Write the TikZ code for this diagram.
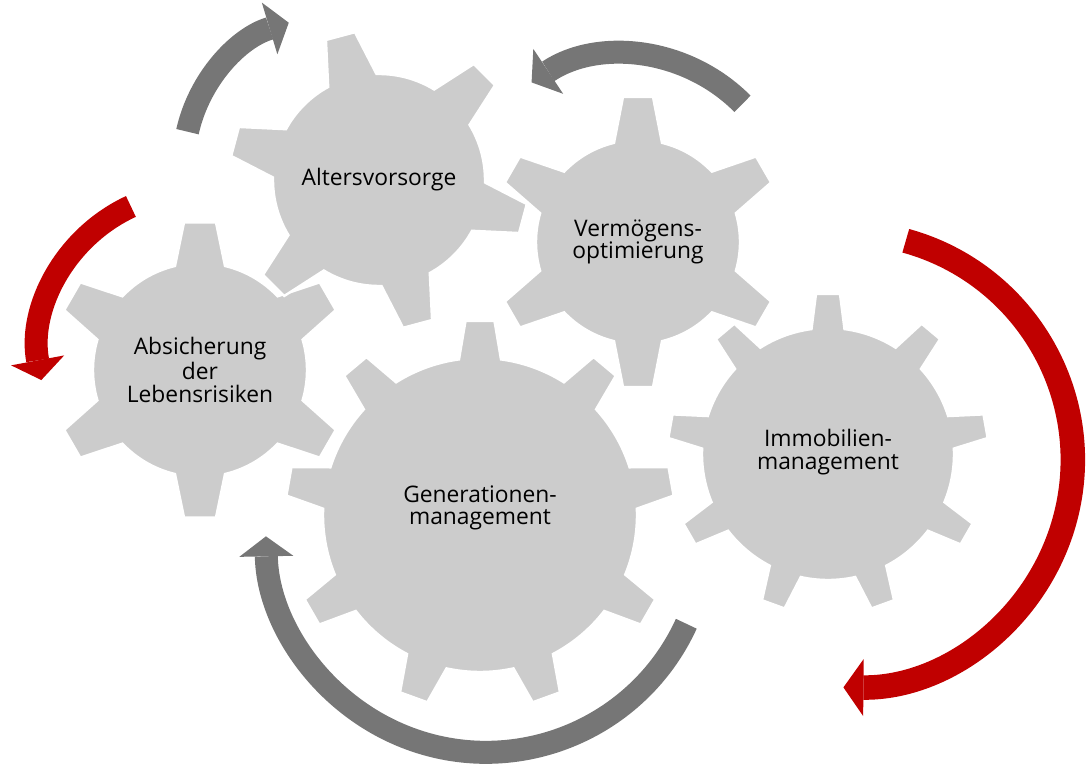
\documentclass[tikz,border=0pt]{standalone}
\usepackage{fontspec}
\setmainfont{Open Sans}
\usetikzlibrary{arrows.meta}

\definecolor{gearfill}{HTML}{CCCCCC}
\definecolor{arrowgray}{HTML}{767676}
\definecolor{arrowred}{HTML}{C00000}

\tikzset{
  gearbody/.style={fill=gearfill, draw=white, line width=1.2pt, line join=miter},
  gearlabel/.style={align=center, text=black, font=\fontsize{11.4}{11.3}\selectfont},
  cyclearrow/.style={line width=11.5pt, -{Triangle[width=27pt,length=10pt,line width=0pt]}},
}

% centre, body radius, tip radius, teeth, angle of first tooth, half tip width, half base width
\newcommand{\drawgear}[7]{%
  \pgfmathsetmacro{\gstep}{360/#4}%
  \pgfmathsetmacro{\gbase}{asin(#7/#2)}%
  \pgfmathsetmacro{\gtip}{atan(#6/#3)}%
  \pgfmathsetmacro{\gtr}{veclen(#3,#6)}%
  \begin{scope}[shift={#1}]
    \filldraw[gearbody] (#5-\gbase:#2)
      \foreach \k [evaluate=\k as \a using #5+(\k-1)*\gstep,
                   evaluate=\k as \s using #5+(\k-1)*\gstep+\gbase,
                   evaluate=\k as \e using #5+\k*\gstep-\gbase] in {1,...,#4}{
        -- (\a-\gtip:\gtr) -- (\a+\gtip:\gtr) -- (\s:#2)
        arc[start angle=\s, end angle=\e, radius=#2]
      } -- cycle;
  \end{scope}
}

\begin{document}
\begin{tikzpicture}[x=0.5pt,y=0.5pt]
\useasboundingbox (0,0) rectangle (1088,-765);

% gears
\drawgear{(200,-370)}{107}{147.5}{6}{30}{16}{25}
\drawgear{(379,-180)}{106}{149}{6}{45}{15}{25}
\drawgear{(638,-242)}{102}{145}{6}{30}{15}{24}
\drawgear{(828,-454)}{126}{160}{9}{10}{12}{16.5}
\drawgear{(480,-515)}{157}{194}{9}{10}{14.5}{21}

\node[gearlabel] (absicherung) at (200,-370) {Absicherung\\der\\Lebensrisiken};
\node[gearlabel] (alter) at (379,-180) {Altersvorsorge};
\node[gearlabel] (vermoegen) at (638,-242) {Vermögens-\\optimierung};
\node[gearlabel] (immobilien) at (828,-452) {Immobilien-\\management};
\node[gearlabel] (generationen) at (480,-508) {Generationen-\\management};

% arrows round the gears
\foreach \cx/\cy/\r/\from/\to/\col in {331/-163.5/147/167.5/106.7/arrowgray,
    624/-221.5/167/44.8/123.6/arrowgray,
    197.6/-350.8/159/114.8/190.6/arrowred,
    486.1/-532.1/220.2/-24.6/-178.9/arrowgray}
  \draw[cyclearrow, \col] (\cx,\cy) ++(\from:\r) arc[start angle=\from, end angle=\to, radius=\r];
\draw[cyclearrow, arrowred, line width=12.25pt, -{Triangle[width=28.5pt,length=10pt,line width=0pt]}]
  (845.4,-460) ++(74.6:227.4) arc[start angle=74.6, end angle=-90.5, radius=227.4];
\end{tikzpicture}
\end{document}
